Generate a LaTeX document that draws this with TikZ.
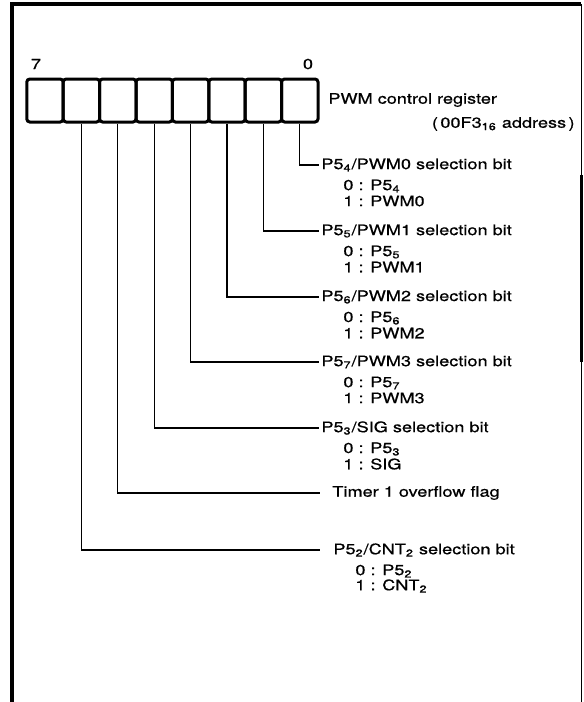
\documentclass[tikz,border=0pt]{standalone}
\usepackage{fontspec}
\setmainfont{TeX Gyre Heros}[FakeStretch=1.25, FakeBold=0.6]
\usetikzlibrary{positioning}
\newcommand{\lo}[1]{\textsubscript{#1}}

\begin{document}
\begin{tikzpicture}[
  x=0.5pt, y=-0.5pt,
  every node/.style={font=\fontsize{7.25}{9}\selectfont, inner sep=1pt},
]

\tikzset{
  cell/.style={rectangle, rounded corners=1.5pt, draw, line width=1.5pt,
    minimum width=18.2pt, minimum height=21.5pt},
  bitlabel/.style={anchor=west},
  choice/.style={anchor=west},
  leadline/.style={line width=0.55pt},
  frameline/.style={line width=2pt},
}

\useasboundingbox (0,0) rectangle (584,702);

% ---------------------------------------------------------------
% Frame
% ---------------------------------------------------------------
\draw[frameline] (12,702) -- (12,4) -- (581,4);
\draw[line width=0.5pt] (581,4) -- (581,702);
\draw[line width=1.5pt] (581,175) -- (581,362);

% ---------------------------------------------------------------
% Register (b7 ... b0)
% ---------------------------------------------------------------
\foreach \i in {0,...,7}
  \node[cell] (b\i) at ({299.8-36.4*\i},100.5) {};

\node (msb) at (36,64) {7};
\node (lsb) at (308,64) {0};
\node[anchor=west] (title) at (326,100) {PWM control register};
\node[anchor=east] (addr)  at (577,124) {(\,00F3\lo{16} address\,)};

% ---------------------------------------------------------------
% Bit descriptions
% ---------------------------------------------------------------
\node[bitlabel] (l0)  at (319,165) {P5\lo{4}/PWM0 selection bit};
\node[choice]   (l0z) at (341,186) {0 : P5\lo{4}};
\node[choice]   (l0o) at (341,201) {1 : PWM0};

\node[bitlabel] (l1)  at (319,231) {P5\lo{5}/PWM1 selection bit};
\node[choice]   (l1z) at (341,252) {0 : P5\lo{5}};
\node[choice]   (l1o) at (341,267) {1 : PWM1};

\node[bitlabel] (l2)  at (319,297) {P5\lo{6}/PWM2 selection bit};
\node[choice]   (l2z) at (341,318) {0 : P5\lo{6}};
\node[choice]   (l2o) at (341,333) {1 : PWM2};

\node[bitlabel] (l3)  at (319,362) {P5\lo{7}/PWM3 selection bit};
\node[choice]   (l3z) at (341,383) {0 : P5\lo{7}};
\node[choice]   (l3o) at (341,398) {1 : PWM3};

\node[bitlabel] (l4)  at (319,428) {P5\lo{3}/SIG selection bit};
\node[choice]   (l4z) at (341,449) {0 : P5\lo{3}};
\node[choice]   (l4o) at (341,464) {1 : SIG};

\node[bitlabel, inner xsep=6pt] (l5) at (320,493) {Timer 1 overflow flag};

\node[bitlabel, inner xsep=6.5pt] (l6) at (320,550) {P5\lo{2}/CNT\lo{2} selection bit};
\node[choice]   (l6z) at (353,571) {0 : P5\lo{2}};
\node[choice]   (l6o) at (353,586) {1 : CNT\lo{2}};

% Lead lines
\foreach \i in {0,...,6}
  \draw[leadline] (b\i.south) |- (l\i.west);

\end{tikzpicture}
\end{document}
